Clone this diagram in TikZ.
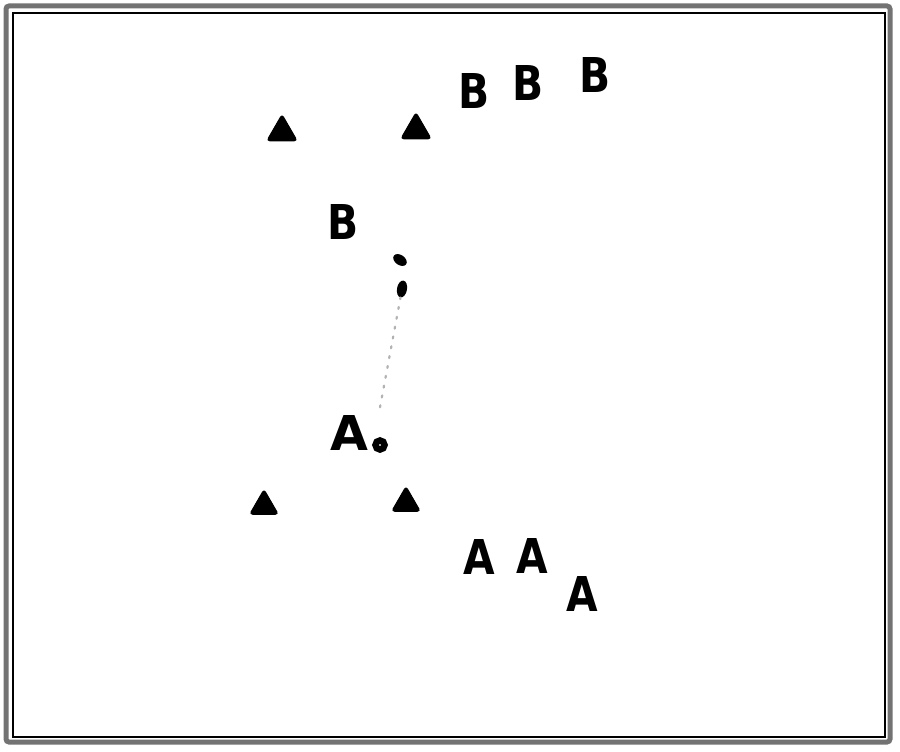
\documentclass[tikz,border=0pt]{standalone}
\usepackage{fontspec}
\newfontfamily\lett{DejaVu Sans}
\usetikzlibrary{shapes.geometric}
\tikzset{
  tri/.style={regular polygon, regular polygon sides=3, fill=black, draw=black,
    line width=1pt, rounded corners=3pt, inner sep=0pt, minimum size=35pt},
  letter/.style={inner sep=0pt, font=\lett\bfseries\fontsize{48}{48}\selectfont, xscale=0.85},
  blob/.style={ellipse, fill=black, inner sep=0pt},
  ring/.style={circle, draw=black, line width=6.5pt, fill=white, minimum size=9pt, inner sep=0pt},
  faint/.style={draw=black!30, line width=2.2pt, dash pattern=on 2pt off 8pt, line cap=round}
}
\begin{document}
\begin{tikzpicture}[x=1pt,y=-1pt]
\useasboundingbox (0,0) rectangle (900,752);
\fill[white] (0,0) rectangle (900,752);
% frame
\draw[black!55, line width=5pt, rounded corners=3pt] (6,6) rectangle (890,742);
\draw[black, line width=1.3pt] (13,13) rectangle (885,737);
% triangles
\node[tri] (t1) at (282,132) {};
\node[tri] (t2) at (416,130) {};
\node[tri, minimum size=33pt] (t3) at (264,506) {};
\node[tri, minimum size=33pt] (t4) at (406,503) {};
% B letters
\node[letter] (b1) at (474,91) {B};
\node[letter] (b2) at (528,83) {B};
\node[letter] (b3) at (595,75) {B};
\node[letter] (b4) at (343,222) {B};
% A letters
\node[letter] (a1) at (479,557) {A};
\node[letter] (a2) at (532,556) {A};
\node[letter] (a3) at (582,594) {A};
\node[letter, xscale=1.02/0.85] (a4) at (349,433) {A};
% small ring
\node[ring] (o) at (380,445) {};
% blobs
\node[blob, minimum width=15pt, minimum height=10pt, rotate=-35] (p1) at (400,260) {};
\node[blob, minimum width=10pt, minimum height=17pt, rotate=-10] (p2) at (402,289) {};
% faint dotted connector
\draw[faint] (o.north) ++(0,-30) coordinate (c0) -- (p2.south);
\end{tikzpicture}
\end{document}
